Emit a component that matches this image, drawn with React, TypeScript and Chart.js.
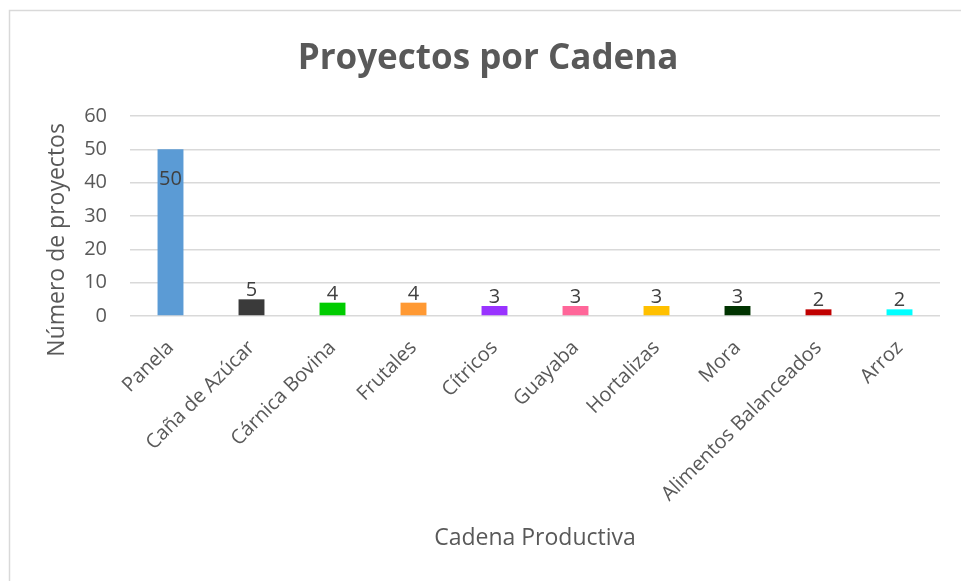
import React, { useEffect, useRef } from "react";
import { Chart, registerables } from "chart.js";

Chart.register(...registerables);

const categories = [
  "Panela",
  "Caña de Azúcar",
  "Cárnica Bovina",
  "Frutales",
  "Cítricos",
  "Guayaba",
  "Hortalizas",
  "Mora",
  "Alimentos Balanceados",
  "Arroz",
];
const values = [50, 5, 4, 4, 3, 3, 3, 3, 2, 2];
const barColors = [
  "#5B9BD5",
  "#3A3A3A",
  "#00CC00",
  "#FF9933",
  "#9933FF",
  "#FF6699",
  "#FFC000",
  "#003300",
  "#C00000",
  "#00FFFF",
];
const yMin = 0;
const yMax = 60;
const yStep = 10;
const chartTitle = "Proyectos por Cadena";
const xTitle = "Cadena Productiva";
const yTitle = "Número de proyectos";

const FONT = "'Open Sans', sans-serif";
const TEXT = "#595959";
const GRID = "#d9d9d9";

const framePlugin = {
  id: "frame",
  beforeDraw(chart: any) {
    const { ctx, width, height } = chart;
    ctx.save();
    ctx.fillStyle = "#ffffff";
    ctx.fillRect(0, 0, width, height);
    ctx.strokeStyle = GRID;
    ctx.lineWidth = 1.5;
    ctx.beginPath();
    ctx.moveTo(9.5, height);
    ctx.lineTo(9.5, 10.5);
    ctx.lineTo(width, 10.5);
    ctx.stroke();
    ctx.restore();
  },
};

const labelPlugin = {
  id: "barLabels",
  afterDatasetsDraw(chart: any) {
    const { ctx } = chart;
    const meta = chart.getDatasetMeta(0);
    const max = Math.max(...values);
    ctx.save();
    ctx.font = `20px ${FONT}`;
    ctx.fillStyle = "#404040";
    ctx.textAlign = "center";
    ctx.textBaseline = "alphabetic";
    meta.data.forEach((bar: any, i: number) => {
      const v = values[i];
      const inside = v === max;
      const y = inside ? bar.y + 36 : bar.y - 3;
      ctx.fillText(String(v), bar.x, y);
    });
    ctx.restore();
  },
};

export default function App() {
  const ref = useRef<HTMLCanvasElement>(null);

  useEffect(() => {
    if (!ref.current) return;
    const chart = new Chart(ref.current, {
      type: "bar",
      data: {
        labels: categories,
        datasets: [
          {
            data: values,
            backgroundColor: barColors,
            borderWidth: 0,
            categoryPercentage: 1,
            barPercentage: 0.32,
          },
        ],
      },
      options: {
        responsive: false,
        animation: false,
        layout: { padding: { left: 36, right: 21, top: 0, bottom: 0 } },
        plugins: {
          legend: { display: false },
          tooltip: { enabled: false },
          title: {
            display: true,
            text: chartTitle,
            color: TEXT,
            font: { family: FONT, size: 35, weight: "bold", lineHeight: 1.2 },
            padding: { top: 38, bottom: 36 },
          },
        },
        scales: {
          x: {
            grid: { display: false, drawTicks: false },
            border: { display: false },
            ticks: {
              color: TEXT,
              font: { family: FONT, size: 20 },
              minRotation: 45,
              maxRotation: 45,
              autoSkip: false,
              padding: 20,
            },
            title: {
              display: true,
              text: xTitle,
              color: TEXT,
              font: { family: FONT, size: 23, lineHeight: 1.2 },
              padding: { top: 0, bottom: 29 },
            },
            afterFit(scale: any) {
              scale.height = 265;
            },
          },
          y: {
            min: yMin,
            max: yMax,
            grid: { color: GRID, lineWidth: 1.5, drawTicks: false },
            border: { display: false },
            ticks: {
              stepSize: yStep,
              color: TEXT,
              font: { family: FONT, size: 20 },
              padding: 23,
            },
            title: {
              display: true,
              text: yTitle + "        ",
              color: TEXT,
              font: { family: FONT, size: 23, lineHeight: 1.2 },
              padding: { top: 8, bottom: 0 },
            },
            afterFit(scale: any) {
              scale.width = 94;
            },
          },
        },
      },
      plugins: [framePlugin, labelPlugin],
    } as any);
    return () => chart.destroy();
  }, []);

  return (
    <div style={{ position: "absolute", left: 0, top: 0, width: 961, height: 581 }}>
      <canvas ref={ref} width={961} height={581} style={{ display: "block" }} />
    </div>
  );
}
